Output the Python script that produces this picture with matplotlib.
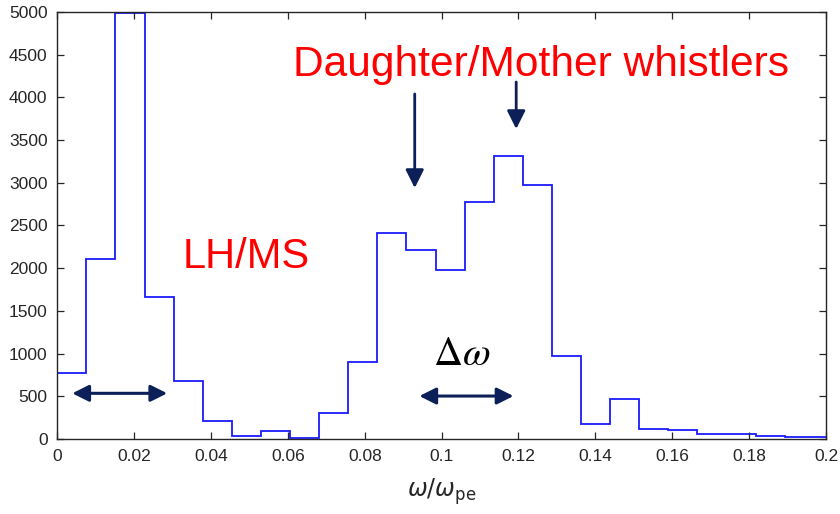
import numpy as np
import matplotlib
matplotlib.use("Agg")
import matplotlib.pyplot as plt
from matplotlib.ticker import FuncFormatter

# Histogram of wave frequencies (normalised to the plasma frequency)
bin_width = 0.00757
counts = [770, 2110, 4990, 1660, 685, 215, 35, 88, 15, 305, 905, 2415, 2215,
          1980, 2775, 3310, 2975, 970, 170, 465, 115, 100, 55, 55, 35, 20, 20]
edges = bin_width * np.arange(len(counts) + 1)

x_ticks = [0, 0.02, 0.04, 0.06, 0.08, 0.1, 0.12, 0.14, 0.16, 0.18, 0.2]
y_ticks = list(range(0, 5001, 500))

navy = "#0c1f58"
red = "#ff0000"
axis_grey = "#262626"

plt.rcParams["font.family"] = ["Liberation Sans", "DejaVu Sans"]
plt.rcParams["mathtext.fontset"] = "stix"

fig = plt.figure(figsize=(8.4, 5.14), dpi=100)
ax = fig.add_axes([0.0682, 0.1459, 0.9833 - 0.0682, 0.9767 - 0.1459])

ax.stairs(counts, edges, baseline=0, color="#1a1aff", lw=1.3)

ax.set_xlim(0, 0.2)
ax.set_ylim(0, 5000)
ax.set_xticks(x_ticks)
ax.set_yticks(y_ticks)
ax.xaxis.set_major_formatter(FuncFormatter(lambda v, p: f"{v:g}"))
ax.tick_params(direction="in", length=5, width=0.9, top=True, right=True,
               labelsize=12.5, colors=axis_grey, pad=7)
for s in ax.spines.values():
    s.set_color(axis_grey)
    s.set_linewidth(1.0)

ax.set_xlabel(r"$\omega/\omega_{\mathrm{pe}}$", fontsize=17, color=axis_grey,
              labelpad=9, math_fontfamily="dejavusans")

# Annotations
ax.text(0.1259, 4250, "Daughter/Mother whistlers", color=red, fontsize=30.6,
        ha="center", va="baseline")
ax.text(0.0491, 2000, "LH/MS", color=red, fontsize=30, ha="center", va="baseline")
ax.text(0.1051, 866, r"$\Delta\omega$", color="black", fontsize=29,
        ha="center", va="baseline")

double = dict(arrowstyle="<|-|>,head_length=1.0,head_width=0.5",
              mutation_scale=10, color=navy, lw=2.2, shrinkA=0, shrinkB=0)
ax.annotate("", xy=(0.0286, 535), xytext=(0.0039, 535), arrowprops=double)
ax.annotate("", xy=(0.1187, 503), xytext=(0.0942, 503), arrowprops=double)

down = dict(arrowstyle="-|>,head_length=1.1,head_width=0.55",
            mutation_scale=10, color=navy, lw=2.0, shrinkA=0, shrinkB=0)
ax.annotate("", xy=(0.0930, 2939), xytext=(0.0930, 4040), arrowprops=down)
ax.annotate("", xy=(0.1194, 3630), xytext=(0.1194, 4180), arrowprops=down)

fig.savefig("out.png", dpi=100, facecolor="white")
